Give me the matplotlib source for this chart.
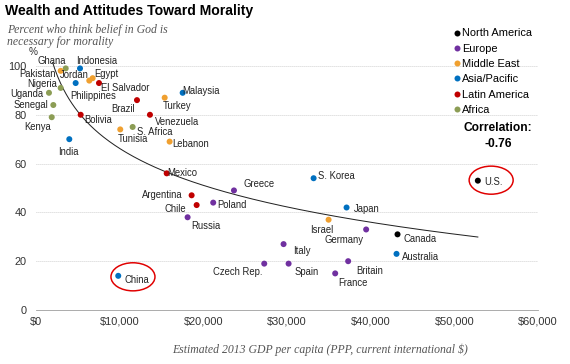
import numpy as np
import matplotlib
matplotlib.use("Agg")
import matplotlib.pyplot as plt
from matplotlib.lines import Line2D
from matplotlib.patches import Ellipse
from matplotlib.ticker import FuncFormatter

plt.rcParams["font.family"] = ["Liberation Sans", "DejaVu Sans"]

countries = [
    "Ghana", "Pakistan", "Indonesia", "Jordan", "Egypt", "Philippines", "El Salvador",
    "Nigeria", "Uganda", "Senegal", "Kenya", "India", "Bolivia", "Brazil", "Venezuela",
    "Tunisia", "S. Africa", "Turkey", "Malaysia", "Lebanon", "Mexico", "Argentina",
    "Chile", "Poland", "Greece", "Russia", "China", "Czech Rep.", "S. Korea", "U.S.",
    "Japan", "Israel", "Germany", "Canada", "Italy", "Australia", "Spain", "Britain",
    "France",
]
gdp = [
    3550, 2950, 5260, 6370, 6770, 4740, 7530,
    2950, 1550, 2070, 1880, 3980, 5340, 12070, 13620,
    10070, 11550, 15380, 17530, 15970, 15620, 18600,
    19200, 21180, 23660, 18120, 9830, 27280, 33180, 52810,
    37120, 34970, 39460, 43210, 29590, 43090, 30190, 37310,
    35760,
]
pct = [
    99, 98, 99, 94, 95, 93, 93,
    91, 89, 84, 79, 70, 80, 86, 80,
    74, 75, 87, 89, 69, 56, 47,
    43, 44, 49, 38, 14, 19, 54, 53,
    42, 37, 33, 31, 27, 23, 19, 20,
    15,
]
region = [
    "Africa", "Middle East", "Asia/Pacific", "Middle East", "Middle East", "Asia/Pacific", "Latin America",
    "Africa", "Africa", "Africa", "Africa", "Asia/Pacific", "Latin America", "Latin America", "Latin America",
    "Middle East", "Africa", "Middle East", "Asia/Pacific", "Middle East", "Latin America", "Latin America",
    "Latin America", "Europe", "Europe", "Europe", "Asia/Pacific", "Europe", "Asia/Pacific", "North America",
    "Asia/Pacific", "Middle East", "Europe", "North America", "Europe", "Asia/Pacific", "Europe", "Europe",
    "Europe",
]

regions = ["North America", "Europe", "Middle East", "Asia/Pacific", "Latin America", "Africa"]
colors = {
    "North America": "#000000",
    "Europe": "#7030A0",
    "Middle East": "#F0A030",
    "Asia/Pacific": "#0070C0",
    "Latin America": "#C00000",
    "Africa": "#8C9D55",
}

# label offsets in pixels from the dot: (dx, dy, ha)
label_pos = {
    "Ghana": (0, 7, "right"), "Pakistan": (-5, -3, "right"), "Indonesia": (-4, 7, "left"),
    "Jordan": (-1, 6, "right"), "Egypt": (2, 4, "left"), "Philippines": (-5, -13, "left"),
    "El Salvador": (2, -5, "left"), "Nigeria": (-4, 4, "right"), "Uganda": (-6, -1, "right"),
    "Senegal": (-5, 0, "right"), "Kenya": (-1, -10, "right"), "India": (-1, -13, "center"),
    "Bolivia": (4, -5, "left"), "Brazil": (-2, -9, "right"), "Venezuela": (5, -7, "left"),
    "Tunisia": (-3, -10, "left"), "S. Africa": (4, -5, "left"), "Turkey": (-2, -8, "left"),
    "Malaysia": (0, 2, "left"), "Lebanon": (3, -2, "left"), "Mexico": (1, 0, "left"),
    "Argentina": (-9, 0, "right"), "Chile": (-11, -4, "right"), "Poland": (4, -2, "left"),
    "Greece": (10, 6, "left"), "Russia": (4, -9, "left"), "China": (6, -4, "left"),
    "Czech Rep.": (-2, -8, "right"), "S. Korea": (4, 2, "left"), "U.S.": (6, -1, "left"),
    "Japan": (7, -1, "left"), "Israel": (-7, -10, "center"), "Germany": (-3, -11, "right"),
    "Canada": (6, -5, "left"), "Italy": (10, -7, "left"), "Australia": (5, -3, "left"),
    "Spain": (6, -8, "left"), "Britain": (8, -10, "left"), "France": (3, -10, "left"),
}

W, H = 570, 364
fig = plt.figure(figsize=(W / 72, H / 72), dpi=72)
ax = fig.add_axes([36 / W, 1 - 310 / H, (538 - 36) / W, (310 - 62.3) / H])

ax.set_xlim(0, 60000)
ax.set_ylim(0, 101.5)
ax.set_xticks(np.arange(0, 60001, 10000))
ax.set_yticks([0, 20, 40, 60, 80, 100])
ax.xaxis.set_major_formatter(FuncFormatter(lambda v, p: f"${v:,.0f}"))
ax.tick_params(length=0, labelsize=11, labelcolor="#333333")
ax.tick_params(axis="y", pad=9)
ax.tick_params(axis="x", pad=7)
for s in ["top", "right", "left"]:
    ax.spines[s].set_visible(False)
ax.spines["bottom"].set_color("#999999")
for yv in [20, 40, 60, 80, 100]:
    ax.axhline(yv, color="#bbbbbb", lw=0.8, ls=(0, (1, 1.5)), zorder=0)

# log trend line fitted on the plotted points
gdp_a = np.array(gdp, dtype=float)
pct_a = np.array(pct, dtype=float)
b, a = np.polyfit(np.log(gdp_a), pct_a, 1)
xs = np.linspace(gdp_a.min(), gdp_a.max(), 300)
ax.plot(xs, a + b * np.log(xs), color="#222222", lw=1.0, zorder=1)

ax.scatter(gdp, pct, s=36, c=[colors[r] for r in region], zorder=3, clip_on=False, linewidths=0)

for name, x, y in zip(countries, gdp, pct):
    dx, dy, ha = label_pos[name]
    ax.annotate(name, (x, y), xytext=(dx, dy), textcoords="offset points",
                ha=ha, va="center", fontsize=9.5, color="#222222", zorder=4)

for cx, cy in [(11590, 13.6), (54400, 53.2)]:
    ax.add_patch(Ellipse((cx, cy), 5260, 11.5, fill=False, ec="#E00000", lw=1.5, zorder=5))

handles = [Line2D([], [], marker="o", ls="none", ms=6, mec="none", mfc=colors[r]) for r in regions]
fig.legend(handles, regions, loc="upper left", bbox_to_anchor=(454 / W, 1 - 28.5 / H),
           frameon=False, fontsize=11, handlelength=0.55, handletextpad=0.2,
           labelspacing=0.48, borderpad=0, borderaxespad=0)

fig.text(498 / W, 1 - 128 / H, "Correlation:", ha="center", va="center", fontsize=12, fontweight="bold")
fig.text(498 / W, 1 - 144 / H, "-0.76", ha="center", va="center", fontsize=12, fontweight="bold")

fig.text(5 / W, 1 - 15.5 / H, "Wealth and Attitudes Toward Morality", ha="left", va="baseline",
         fontsize=14, fontweight="bold")
fig.text(7 / W, 1 - 33 / H, "Percent who think belief in God is", ha="left", va="baseline",
         fontsize=11.7, style="italic", family="Liberation Serif", color="#555555")
fig.text(7 / W, 1 - 45 / H, "necessary for morality", ha="left", va="baseline",
         fontsize=11.7, style="italic", family="Liberation Serif", color="#555555")
fig.text(33 / W, 1 - 52 / H, "%", ha="center", va="center", fontsize=10, color="#333333")
fig.text(320 / W, 1 - 350 / H, "Estimated 2013 GDP per capita (PPP, current international $)",
         ha="center", va="center", fontsize=11.8, style="italic", family="Liberation Serif", color="#555555")

fig.savefig("out.png", dpi=72)
